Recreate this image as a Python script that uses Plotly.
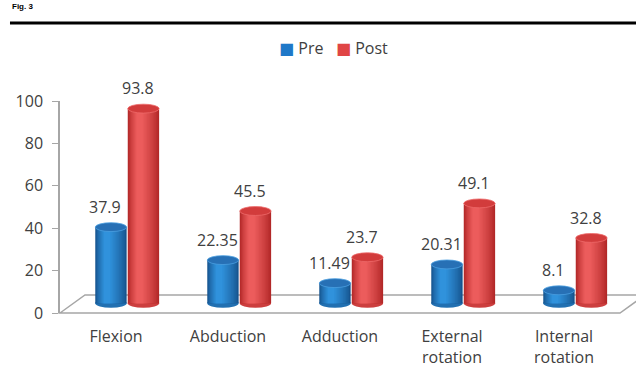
import plotly.graph_objects as go

# ---- data ----
categories = ["Flexion", "Abduction", "Adduction", "External<br>rotation", "Internal<br>rotation"]
pre = [37.9, 22.35, 11.49, 20.31, 8.1]
post = [93.8, 45.5, 23.7, 49.1, 32.8]
series_names = ["Pre", "Post"]
y_ticks = [0, 20, 40, 60, 80, 100]

# ---- style / pseudo-3D geometry ----
FONT = "Open Sans"
TXT = "#404040"
AX = "#a6a6a6"
W = 0.28             # bar width (category units)
DX = {"Pre": -0.045, "Post": 0.245}   # bar offset from category centre (depth shift)
LIFT = 2.6           # perspective lift of bar tops (value units)
BASE = 2.0           # bar floor level on lifted axis
E = 2.1              # half height of the cylinder ellipses
DARK = {"Pre": (22, 84, 142), "Post": (178, 40, 40)}
LIGHT = {"Pre": (48, 146, 220), "Post": (236, 92, 92)}
TOP = {"Pre": "#2770b5", "Post": "#d23c3c"}
RIM = {"Pre": "#4a9ee0", "Post": "#ee6a6a"}
LEG = {"Pre": "#1f78c8", "Post": "#e04545"}
N_LAYERS = 12


def mix(a, b, t):
    return "rgb(%d,%d,%d)" % tuple(round(a[i] + (b[i] - a[i]) * t) for i in range(3))


pos = list(range(len(categories)))
fig = go.Figure()
shapes = []
annotations = []

# anchor trace so the main (labelled) y axis is drawn
fig.add_trace(go.Scatter(x=[None], y=[None], mode="markers", showlegend=False, hoverinfo="skip"))

# floor (pseudo 3D) in paper coordinates
shapes.append(dict(type="path", xref="paper", yref="paper",
                   path="M 0,0 L 0.0446,0.085 L 1.0446,0.085 L 1,0 Z",
                   line=dict(color=AX, width=1.5), fillcolor="rgba(0,0,0,0)", layer="below"))

layers = []
for i in range(N_LAYERS):
    t = i / (N_LAYERS - 1)
    layers.append((1.0 - 0.8 * t, -0.12 * t, t ** 0.8))

for name, vals in zip(series_names, [pre, post]):
    xc = [p + DX[name] for p in pos]
    for wf, sh, t in layers:
        fig.add_trace(go.Bar(
            x=[x + sh * W for x in xc], y=[v - BASE for v in vals], base=BASE,
            width=W * wf, yaxis="y2", marker=dict(color=mix(DARK[name], LIGHT[name], t),
                                                  line=dict(width=0)),
            name=name, showlegend=False, customdata=vals,
            hovertemplate=name + ": %{customdata}<extra></extra>"))
    for x, v in zip(xc, vals):
        shapes.append(dict(type="circle", xref="x", yref="y2",
                           x0=x - W / 2, x1=x + W / 2, y0=BASE - E, y1=BASE + E,
                           fillcolor=mix(DARK[name], LIGHT[name], 0.45), line=dict(width=0),
                           layer="below"))
        shapes.append(dict(type="circle", xref="x", yref="y2",
                           x0=x - W / 2, x1=x + W / 2, y0=v - E, y1=v + E,
                           fillcolor=TOP[name], line=dict(width=0.8, color=RIM[name]),
                           layer="above"))
        annotations.append(dict(xref="x", yref="y2", x=x - 0.05, y=v + E, yanchor="bottom",
                                xanchor="center", yshift=3, text=str(v), showarrow=False,
                                font=dict(family=FONT, size=16, color=TXT)))

# header rule
shapes.append(dict(type="line", xref="paper", yref="paper", x0=-0.0893, x1=1.03,
                   y0=1.368, y1=1.368, line=dict(color="black", width=3)))

legend_text = "   ".join(
    "<span style='color:%s;font-family:DejaVu Sans'>■</span> %s" % (LEG[n], n) for n in series_names)

annotations += [
    dict(xref="paper", yref="paper", x=-0.09, y=1.477, xanchor="left", yanchor="top",
         text="<b>Fig. 3</b>", showarrow=False,
         font=dict(family="Liberation Sans", size=8, color="black")),
    dict(xref="paper", yref="paper", x=0.4875, y=1.25, xanchor="center", yanchor="middle",
         text=legend_text, showarrow=False,
         font=dict(family=FONT, size=16, color=TXT)),
]

fig.update_layout(
    width=636, height=367, margin=dict(l=60, r=16, t=101, b=54),
    paper_bgcolor="white", plot_bgcolor="white",
    barmode="overlay", shapes=shapes, showlegend=False, annotations=annotations,
    font=dict(family=FONT, size=16, color=TXT),
    xaxis=dict(range=[-0.5, 4.5], tickmode="array", tickvals=pos, ticktext=categories,
               showline=False, showgrid=False, zeroline=False, ticks="", automargin=False,
               tickfont=dict(family=FONT, size=16, color=TXT), ticklabelstandoff=12),
    yaxis=dict(range=[0, 100], tickvals=y_ticks, showline=True, linecolor=AX, linewidth=1.5,
               ticks="outside", ticklen=6, tickcolor=AX, showgrid=False, zeroline=False,
               automargin=False,
               tickfont=dict(family=FONT, size=16, color=TXT), ticklabelstandoff=6),
    yaxis2=dict(range=[-LIFT, 100 - LIFT], overlaying="y", visible=False),
)

fig.write_html("out.html")
